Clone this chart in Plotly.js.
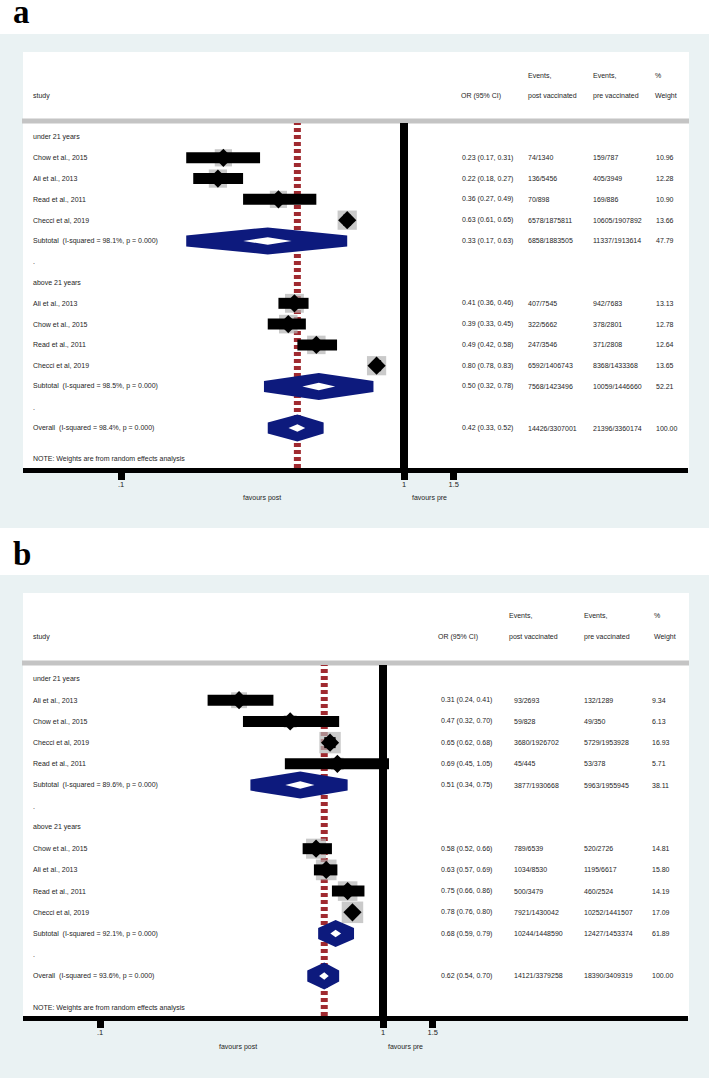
<!DOCTYPE html>
<html>
<head>
<meta charset="utf-8">
<script src="https://cdn.plot.ly/plotly-3.0.1.min.js"></script>
<style>
html,body{margin:0;padding:0;background:#fff;}
#chart{width:709px;height:1078px;}
</style>
</head>
<body>
<div id="chart"></div>
<script>
// ---------------- DATA ----------------
const groupLabels = ["under 21 years", "above 21 years"];
const tickVals = [0.1, 1, 1.5];
const tickText = [".1", "1", "1.5"];
const headerLine1 = ["Events,", "Events,", "%"];
const headerLine2 = ["study", "OR (95% CI)", "post vaccinated", "pre vaccinated", "Weight"];
const axisTitles = ["favours post", "favours pre"];
const noteText = "NOTE: Weights are from random effects analysis";

// Panel a
const aUnderStudy = ["Chow et al., 2015", "Ali et al., 2013", "Read et al., 2011", "Checci et al, 2019"];
const aUnderOR = [0.23, 0.22, 0.36, 0.63];
const aUnderLo = [0.17, 0.18, 0.27, 0.61];
const aUnderHi = [0.31, 0.27, 0.49, 0.65];
const aUnderPost = ["74/1340", "136/5456", "70/898", "6578/1875811"];
const aUnderPre = ["159/787", "405/3949", "169/886", "10605/1907892"];
const aUnderWeight = [10.96, 12.28, 10.90, 13.66];

const aAboveStudy = ["Ali et al., 2013", "Chow et al., 2015", "Read et al., 2011", "Checci et al, 2019"];
const aAboveOR = [0.41, 0.39, 0.49, 0.80];
const aAboveLo = [0.36, 0.33, 0.42, 0.78];
const aAboveHi = [0.46, 0.45, 0.58, 0.83];
const aAbovePost = ["407/7545", "322/5662", "247/3546", "6592/1406743"];
const aAbovePre = ["942/7683", "378/2801", "371/2808", "8368/1433368"];
const aAboveWeight = [13.13, 12.78, 12.64, 13.65];

const aPooledLabel = ["Subtotal  (I-squared = 98.1%, p = 0.000)", "Subtotal  (I-squared = 98.5%, p = 0.000)", "Overall  (I-squared = 98.4%, p = 0.000)"];
const aPooledOR = [0.33, 0.50, 0.42];
const aPooledLo = [0.17, 0.32, 0.33];
const aPooledHi = [0.63, 0.78, 0.52];
const aPooledPost = ["6858/1883505", "7568/1423496", "14426/3307001"];
const aPooledPre = ["11337/1913614", "10059/1446660", "21396/3360174"];
const aPooledWeight = [47.79, 52.21, 100.00];

// Panel b
const bUnderStudy = ["Ali et al., 2013", "Chow et al., 2015", "Checci et al, 2019", "Read et al., 2011"];
const bUnderOR = [0.31, 0.47, 0.65, 0.69];
const bUnderLo = [0.24, 0.32, 0.62, 0.45];
const bUnderHi = [0.41, 0.70, 0.68, 1.05];
const bUnderPost = ["93/2693", "59/828", "3680/1926702", "45/445"];
const bUnderPre = ["132/1289", "49/350", "5729/1953928", "53/378"];
const bUnderWeight = [9.34, 6.13, 16.93, 5.71];

const bAboveStudy = ["Chow et al., 2015", "Ali et al., 2013", "Read et al., 2011", "Checci et al, 2019"];
const bAboveOR = [0.58, 0.63, 0.75, 0.78];
const bAboveLo = [0.52, 0.57, 0.66, 0.76];
const bAboveHi = [0.66, 0.69, 0.86, 0.80];
const bAbovePost = ["789/6539", "1034/8530", "500/3479", "7921/1430042"];
const bAbovePre = ["520/2726", "1195/6617", "460/2524", "10252/1441507"];
const bAboveWeight = [14.81, 15.80, 14.19, 17.09];

const bPooledLabel = ["Subtotal  (I-squared = 89.6%, p = 0.000)", "Subtotal  (I-squared = 92.1%, p = 0.000)", "Overall  (I-squared = 93.6%, p = 0.000)"];
const bPooledOR = [0.51, 0.68, 0.62];
const bPooledLo = [0.34, 0.59, 0.54];
const bPooledHi = [0.75, 0.79, 0.70];
const bPooledPost = ["3877/1930668", "10244/1448590", "14121/3379258"];
const bPooledPre = ["5963/1955945", "12427/1453374", "18390/3409319"];
const bPooledWeight = [38.11, 61.89, 100.00];

// ---------------- LAYOUT HELPERS ----------------
const W = 709, H = 1078;
const px = v => v / W;
const py = v => 1 - v / H;
const BG = "#eaf2f3";
const NAVY = "#0d1a7d";
const RED = "#a02a30";
const BOXGRAY = "#b4b4b4";
const TXT = "#1e1e1e";
const FONT = "Liberation Sans, Arial, sans-serif";
const fmt = v => v.toFixed(2);
const PX_PER_DECADE = 283;

const traces = [];
const shapes = [];
const annotations = [];
const layout = {
  width: W, height: H,
  margin: {l: 0, r: 0, t: 0, b: 0},
  paper_bgcolor: "#ffffff",
  plot_bgcolor: "rgba(0,0,0,0)",
  showlegend: false,
  font: {family: FONT, size: 7, color: TXT},
};

function text(t, x, y, yref, size, extra) {
  annotations.push(Object.assign({
    text: t, x: x, y: y, xref: "paper", yref: yref,
    xanchor: "left", yanchor: "middle", showarrow: false,
    font: {family: FONT, size: size || 7, color: TXT}
  }, extra || {}));
}

// pooled diamond: navy hexagon (thick outline look) with a small white centre
function diamondPolys(lo, est, hi, row, ky) {
  const kx = PX_PER_DECADE;
  const X = v => Math.log10(v) * kx;
  const xl = X(lo), xe = X(est), xr = X(hi);
  const tipHalf = 5.5, apexHalf = 13.5, innerHalf = 3.8, innerFrac = 0.3;
  const outer = [[xl, -tipHalf], [xe, -apexHalf], [xr, -tipHalf], [xr, tipHalf], [xe, apexHalf], [xl, tipHalf]];
  const inner = [[xe - innerFrac * (xe - xl), 0], [xe, -innerHalf], [xe + innerFrac * (xr - xe), 0], [xe, innerHalf]];
  const conv = pts => ({x: pts.map(q => Math.pow(10, q[0] / kx)).concat([Math.pow(10, pts[0][0] / kx)]),
                        y: pts.map(q => row + q[1] / ky).concat([row + pts[0][1] / ky])});
  return {outer: conv(outer), inner: conv(inner)};
}

function buildPanel(p) {
  const xa = p.xa, ya = p.ya;
  const xName = xa === "xaxis" ? "x" : "x" + xa.slice(5);
  const yName = ya === "yaxis" ? "y" : "y" + ya.slice(5);

  // backgrounds
  shapes.push({type: "rect", xref: "paper", yref: "paper", layer: "below",
    x0: 0, x1: 1, y0: py(p.bgBottom), y1: py(p.bgTop), fillcolor: BG, line: {width: 0}});
  shapes.push({type: "rect", xref: "paper", yref: "paper", layer: "below",
    x0: px(23), x1: px(689), y0: py(p.axisY), y1: py(p.whiteTop), fillcolor: "#ffffff", line: {width: 0}});
  shapes.push({type: "line", xref: "paper", yref: "paper", layer: "below",
    x0: px(22), x1: px(689), y0: py(p.grayY), y1: py(p.grayY), line: {color: "#c4c4c4", width: 5}});

  // panel letter
  annotations.push({text: "<b>" + p.letter + "</b>", x: px(p.letterX), y: py(p.letterY), xref: "paper", yref: "paper",
    xanchor: "left", yanchor: "middle", showarrow: false,
    font: {family: "Liberation Serif, Times New Roman, serif", size: 33, color: "#000"}});

  // headers
  const c = p.cols, hc = p.headCols;
  text(headerLine1[0], px(hc.post), py(p.head1Y), "paper", 7);
  text(headerLine1[1], px(hc.pre), py(p.head1Y), "paper", 7);
  text(headerLine1[2], px(hc.w), py(p.head1Y), "paper", 7);
  text(headerLine2[0], px(c.study), py(p.head2Y), "paper", 7);
  text(headerLine2[1], px(hc.or), py(p.head2Y), "paper", 7);
  text(headerLine2[2], px(hc.post), py(p.head2Y), "paper", 7);
  text(headerLine2[3], px(hc.pre), py(p.head2Y), "paper", 7);
  text(headerLine2[4], px(hc.w), py(p.head2Y), "paper", 7);

  // rows
  const groups = [p.under, p.above];
  const studyRows = [], studyOR = [], studyLo = [], studyHi = [], studyW = [];
  let row = 0;
  const pooledRows = [];
  groups.forEach((g, gi) => {
    text(groupLabels[gi], px(c.study), row, yName);
    row++;
    g.study.forEach((s, i) => {
      text(s, px(c.study), row, yName);
      text(fmt(g.or[i]) + " (" + fmt(g.lo[i]) + ", " + fmt(g.hi[i]) + ")", px(c.or), row, yName);
      text(g.post[i], px(c.post), row, yName);
      text(g.pre[i], px(c.pre), row, yName);
      text(fmt(g.w[i]), px(c.w), row, yName);
      studyRows.push(row); studyOR.push(g.or[i]); studyLo.push(g.lo[i]); studyHi.push(g.hi[i]); studyW.push(g.w[i]);
      row++;
    });
    pooledRows.push(row);
    row++;
    text(".", px(c.study), row, yName);
    row++;
  });
  pooledRows.push(row);
  const overallRow = row;
  text(noteText, px(c.study), overallRow + 1.5, yName);

  const P = p.pooled;
  pooledRows.forEach((r, k) => {
    text(P.label[k], px(c.study), r, yName);
    text(fmt(P.or[k]) + " (" + fmt(P.lo[k]) + ", " + fmt(P.hi[k]) + ")", px(c.or), r, yName);
    text(P.post[k], px(c.post), r, yName);
    text(P.pre[k], px(c.pre), r, yName);
    text(fmt(P.w[k]), px(c.w), r, yName);
  });

  // reference lines
  shapes.push({type: "line", xref: xName, yref: yName + " domain", layer: "below",
    x0: 1, x1: 1, y0: -0.01, y1: 1, line: {color: "#000", width: 8}});
  shapes.push({type: "line", xref: xName, yref: yName + " domain", layer: "below",
    x0: P.or[2], x1: P.or[2], y0: 0, y1: 1, line: {color: RED, width: 7, dash: "4px,3px"}});

  // weight boxes
  traces.push({type: "scatter", mode: "markers", xaxis: xName, yaxis: yName,
    x: studyOR, y: studyRows, hoverinfo: "skip",
    marker: {symbol: "square", color: BOXGRAY, size: studyW.map(w => 5.2 * Math.sqrt(w)), line: {width: 0}}});
  // CI bars + point estimates
  traces.push({type: "scatter", mode: "markers", xaxis: xName, yaxis: yName,
    x: studyOR, y: studyRows, hoverinfo: "skip",
    marker: {symbol: "diamond", color: "#000", size: 14, line: {width: 0}},
    error_x: {type: "data", symmetric: false,
      array: studyOR.map((v, i) => studyHi[i] - v),
      arrayminus: studyOR.map((v, i) => v - studyLo[i]),
      thickness: 11, width: 0, color: "#000"}});
  // pooled diamonds
  pooledRows.forEach((r, k) => {
    const g = diamondPolys(P.lo[k], P.or[k], P.hi[k], r, p.rowH);
    traces.push({type: "scatter", mode: "lines", xaxis: xName, yaxis: yName, hoverinfo: "skip",
      x: g.outer.x, y: g.outer.y, fill: "toself", fillcolor: NAVY, line: {width: 0, color: NAVY}});
    traces.push({type: "scatter", mode: "lines", xaxis: xName, yaxis: yName, hoverinfo: "skip",
      x: g.inner.x, y: g.inner.y, fill: "toself", fillcolor: "#ffffff", line: {width: 0, color: "#ffffff"}});
  });

  // axes
  const topPx = p.grayY + 2, botPx = p.axisY - 2;
  const rowTop = (topPx - p.row0Y) / p.rowH;
  const rowBot = (botPx - p.row0Y) / p.rowH;
  layout[xa] = {
    type: "log", domain: [px(23), px(688)], anchor: yName,
    range: [p.logLeft, p.logRight], fixedrange: true,
    tickvals: tickVals, ticktext: tickText, ticks: "outside", ticklen: 7, tickwidth: 7, tickcolor: "#000",
    ticklabelstandoff: -2,
    showline: true, linewidth: 5, linecolor: "#000", showgrid: false, zeroline: false,
    tickfont: {family: FONT, size: 7.5, color: TXT}
  };
  layout[ya] = {
    domain: [py(botPx), py(topPx)], anchor: xName, range: [rowBot, rowTop], fixedrange: true,
    showgrid: false, zeroline: false, showline: false, showticklabels: false, ticks: ""
  };

  text(axisTitles[0], px(p.favPostX), py(p.favY), "paper", 7);
  text(axisTitles[1], px(p.favPreX), py(p.favY), "paper", 7);
}

buildPanel({
  xa: "xaxis", ya: "yaxis", letter: "a", letterX: 11, letterY: 12,
  bgTop: 34, bgBottom: 528, whiteTop: 52, axisY: 470, grayY: 121,
  head1Y: 75, head2Y: 96, row0Y: 137, rowH: 20.79,
  logLeft: -1 - (121 - 23) / PX_PER_DECADE, logRight: (688 - 404) / PX_PER_DECADE,
  cols: {study: 31, or: 460, post: 526, pre: 591, w: 654},
  headCols: {or: 459, post: 526, pre: 591, w: 653},
  favPostX: 241, favPreX: 410, favY: 498,
  under: {study: aUnderStudy, or: aUnderOR, lo: aUnderLo, hi: aUnderHi, post: aUnderPost, pre: aUnderPre, w: aUnderWeight},
  above: {study: aAboveStudy, or: aAboveOR, lo: aAboveLo, hi: aAboveHi, post: aAbovePost, pre: aAbovePre, w: aAboveWeight},
  pooled: {label: aPooledLabel, or: aPooledOR, lo: aPooledLo, hi: aPooledHi, post: aPooledPost, pre: aPooledPre, w: aPooledWeight}
});

buildPanel({
  xa: "xaxis2", ya: "yaxis2", letter: "b", letterX: 11, letterY: 554,
  bgTop: 575, bgBottom: 1078, whiteTop: 593, axisY: 1018, grayY: 663,
  head1Y: 615, head2Y: 637, row0Y: 679, rowH: 21.21,
  logLeft: -1 - (100 - 23) / PX_PER_DECADE, logRight: (688 - 383) / PX_PER_DECADE,
  cols: {study: 31, or: 439, post: 512, pre: 582, w: 650},
  headCols: {or: 436, post: 507, pre: 582, w: 652},
  favPostX: 217, favPreX: 386, favY: 1047,
  under: {study: bUnderStudy, or: bUnderOR, lo: bUnderLo, hi: bUnderHi, post: bUnderPost, pre: bUnderPre, w: bUnderWeight},
  above: {study: bAboveStudy, or: bAboveOR, lo: bAboveLo, hi: bAboveHi, post: bAbovePost, pre: bAbovePre, w: bAboveWeight},
  pooled: {label: bPooledLabel, or: bPooledOR, lo: bPooledLo, hi: bPooledHi, post: bPooledPost, pre: bPooledPre, w: bPooledWeight}
});

layout.shapes = shapes;
layout.annotations = annotations;

Plotly.newPlot("chart", traces, layout, {displayModeBar: false, staticPlot: true});
</script>
</body>
</html>
